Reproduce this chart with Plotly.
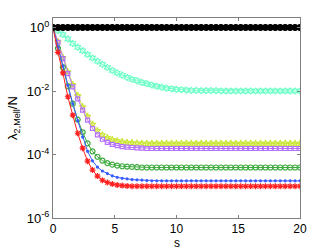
import plotly.graph_objects as go

s = [round(0.4 * i, 1) for i in range(51)]

# log10 of the curves (step 0.4 in s)
black_exp = [0.0] * 51
cyan_exp = [0.0, -0.1, -0.22, -0.36, -0.5, -0.62, -0.73, -0.85, -0.96, -1.06, -1.16,
            -1.26, -1.35, -1.43, -1.5, -1.57, -1.63, -1.68, -1.73, -1.77, -1.81,
            -1.85, -1.88, -1.91, -1.93, -1.95, -1.96, -1.97, -1.98, -1.98, -1.99,
            -1.99, -1.99, -1.99, -2.0, -2.0, -2.0, -2.0, -2.0, -2.0, -2.0,
            -2.0, -2.0, -2.0, -2.0, -2.0, -2.0, -2.0, -2.0, -2.0, -2.0]
yellow_exp = [0.0, -0.45, -0.95, -1.4, -1.8, -2.15, -2.5, -2.8, -3.05, -3.25, -3.38,
              -3.47, -3.53, -3.57, -3.6, -3.62, -3.63, -3.64, -3.65, -3.65, -3.65,
              -3.65, -3.65, -3.65, -3.65, -3.65, -3.65, -3.65, -3.65, -3.65, -3.65,
              -3.65, -3.65, -3.65, -3.65, -3.65, -3.65, -3.65, -3.65, -3.65, -3.65,
              -3.65, -3.65, -3.65, -3.65, -3.65, -3.65, -3.65, -3.65, -3.65, -3.65]
purple_exp = [0.0, -0.47, -0.98, -1.45, -1.87, -2.25, -2.6, -2.92, -3.18, -3.38, -3.52,
              -3.62, -3.68, -3.72, -3.75, -3.77, -3.78, -3.79, -3.8, -3.81, -3.81,
              -3.81, -3.81, -3.81, -3.81, -3.81, -3.81, -3.81, -3.81, -3.81, -3.81,
              -3.81, -3.81, -3.81, -3.81, -3.81, -3.81, -3.81, -3.81, -3.81, -3.81,
              -3.81, -3.81, -3.81, -3.81, -3.81, -3.81, -3.81, -3.81, -3.81, -3.81]
green_exp = [0.0, -0.65, -1.25, -1.85, -2.4, -2.9, -3.3, -3.65, -3.9, -4.07, -4.19,
             -4.27, -4.32, -4.35, -4.37, -4.38, -4.39, -4.4, -4.41, -4.41, -4.41,
             -4.41, -4.41, -4.41, -4.41, -4.41, -4.41, -4.41, -4.41, -4.41, -4.41,
             -4.41, -4.41, -4.41, -4.41, -4.41, -4.41, -4.41, -4.41, -4.41, -4.41,
             -4.41, -4.41, -4.41, -4.41, -4.41, -4.41, -4.41, -4.41, -4.41, -4.41]
blue_exp = [0.0, -0.62, -1.22, -1.82, -2.4, -2.93, -3.45, -3.9, -4.2, -4.4, -4.52,
            -4.6, -4.67, -4.72, -4.75, -4.77, -4.79, -4.8, -4.81, -4.82, -4.83,
            -4.83, -4.83, -4.83, -4.83, -4.83, -4.83, -4.83, -4.83, -4.83, -4.83,
            -4.83, -4.83, -4.83, -4.83, -4.83, -4.83, -4.83, -4.83, -4.83, -4.83,
            -4.83, -4.83, -4.83, -4.83, -4.83, -4.83, -4.83, -4.83, -4.83, -4.83]
red_exp = [0.0, -0.78, -1.43, -2.18, -2.76, -3.33, -3.8, -4.21, -4.49, -4.68, -4.81,
           -4.88, -4.93, -4.96, -4.98, -4.99, -5.0, -5.0, -5.0, -5.0, -5.0,
           -5.0, -5.0, -5.0, -5.0, -5.0, -5.0, -5.0, -5.0, -5.0, -5.0,
           -5.0, -5.0, -5.0, -5.0, -5.0, -5.0, -5.0, -5.0, -5.0, -5.0,
           -5.0, -5.0, -5.0, -5.0, -5.0, -5.0, -5.0, -5.0, -5.0, -5.0]

x_ticks = [0, 5, 10, 15, 20]
y_ticks = [1, 1e-2, 1e-4, 1e-6]
y_ticktext = ["10<sup>0</sup>", "10<sup>-2</sup>", "10<sup>-4</sup>", "10<sup>-6</sup>"]

series = [
    (cyan_exp, "#70ffc8", "hexagram-open", 5),
    (yellow_exp, "#cce63a", "star-open", 5),
    (purple_exp, "#b570ff", "square-open", 4),
    (green_exp, "#3caa3c", "circle-open", 5),
    (blue_exp, "#3a5cff", "circle", 2),
    (red_exp, "#ff2020", "asterisk-open", 5),
    (black_exp, "#000000", "circle", 6),
]

fig = go.Figure()
for exps, col, sym, sz in series:
    fig.add_trace(go.Scatter(
        x=s, y=[10 ** e for e in exps], mode="lines+markers",
        line=dict(color=col, width=1),
        marker=dict(symbol=sym, size=sz, color=col, line=dict(color=col, width=1.2)),
        showlegend=False,
    ))

font = dict(family="Liberation Sans, Arial", size=13, color="black")
font_x = dict(family="Liberation Sans, Arial", size=12, color="black")
axis_common = dict(showline=True, linecolor="#7f7f7f", linewidth=1, mirror="ticks",
                   ticks="inside", ticklen=3, tickcolor="#7f7f7f", showgrid=False,
                   zeroline=False)

fig.update_layout(
    width=332, height=250,
    margin=dict(l=51, r=32, t=18, b=32),
    paper_bgcolor="white", plot_bgcolor="white",
    xaxis=dict(range=[0, 20], tickvals=x_ticks, tickfont=font_x, **axis_common),
    yaxis=dict(type="log", range=[-6, 0.3], tickvals=y_ticks, ticktext=y_ticktext,
               tickfont=font,
               title=dict(text="λ<sub>2,Mell</sub>/N", standoff=6, font=font),
               **axis_common),
    annotations=[dict(text="s", x=10, xref="x", y=-0.1225, yref="paper",
                      xanchor="center", yanchor="middle", showarrow=False, font=font_x)],
)

fig.write_html("out.html", config={"displayModeBar": False},
               post_script="document.body.style.margin='0px';document.body.style.overflow='hidden';")
